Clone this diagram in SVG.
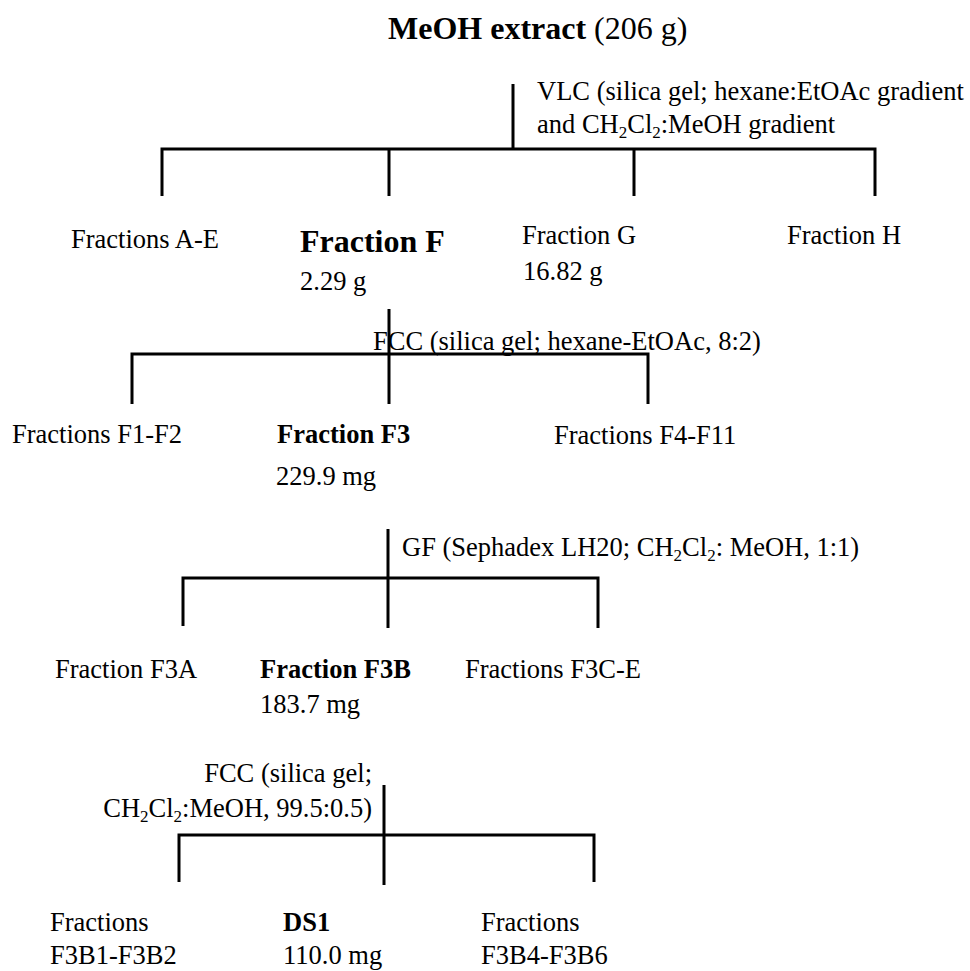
<svg xmlns="http://www.w3.org/2000/svg" width="970" height="971" viewBox="0 0 970 971">
<style>
text{font-family:"Liberation Serif","Times New Roman",serif;font-size:26.5px;fill:#000}
.b{font-weight:bold}
.big{font-size:32px}
.sub{font-size:17px}
.ln{stroke:#000;stroke-width:3;fill:none;stroke-linecap:butt}
</style>
<rect width="970" height="971" fill="#fff"/>
<g id="connectors">
  <path class="ln" d="M513 84V149M160.5 149H876.5M162 149V196M389 149V196M634 149V196M875 149V196"/>
  <path class="ln" d="M389 309V404M130.5 354H649.5M132 354V404M648 354V404"/>
  <path class="ln" d="M388 529V628M181.5 578H599.5M183 578V626M598 578V628"/>
  <path class="ln" d="M384 785V885M177.5 835H595.5M179 835V882M594 835V882"/>
</g>
<g id="meoh"><text x="388" y="39" class="big"><tspan class="b">MeOH extract</tspan> (206 g)</text></g>
<g id="vlc">
  <text x="537" y="100">VLC (silica gel; hexane:EtOAc gradient</text>
  <text x="537" y="133">and CH<tspan class="sub" dy="5">2</tspan><tspan dy="-5">Cl</tspan><tspan class="sub" dy="5">2</tspan><tspan dy="-5">:MeOH gradient</tspan></text>
</g>
<g id="fracAE"><text x="71" y="248">Fractions A-E</text></g>
<g id="fracF"><text x="300" y="252" class="b big">Fraction F</text><text x="300" y="290">2.29 g</text></g>
<g id="fracG"><text x="522" y="244">Fraction G</text><text x="523" y="280">16.82 g</text></g>
<g id="fracH"><text x="787" y="244">Fraction H</text></g>
<g id="fcc1"><text x="373" y="350">FCC (silica gel; hexane-EtOAc, 8:2)</text></g>
<g id="fracF1F2"><text x="12" y="443">Fractions F1-F2</text></g>
<g id="fracF3"><text x="277" y="443" class="b">Fraction F3</text><text x="276" y="485">229.9 mg</text></g>
<g id="fracF4F11"><text x="554" y="444">Fractions F4-F11</text></g>
<g id="gf"><text x="402" y="556">GF (Sephadex LH20; CH<tspan class="sub" dy="5">2</tspan><tspan dy="-5">Cl</tspan><tspan class="sub" dy="5">2</tspan><tspan dy="-5">: MeOH, 1:1)</tspan></text></g>
<g id="fracF3A"><text x="55" y="678">Fraction F3A</text></g>
<g id="fracF3B"><text x="260" y="678" class="b">Fraction F3B</text><text x="260" y="713">183.7 mg</text></g>
<g id="fracF3CE"><text x="465" y="678">Fractions F3C-E</text></g>
<g id="fcc2">
  <text x="372" y="782" text-anchor="end">FCC (silica gel;</text>
  <text x="372" y="817" text-anchor="end">CH<tspan class="sub" dy="5">2</tspan><tspan dy="-5">Cl</tspan><tspan class="sub" dy="5">2</tspan><tspan dy="-5">:MeOH, 99.5:0.5)</tspan></text>
</g>
<g id="fracF3B1B2"><text x="50" y="931">Fractions</text><text x="50" y="964">F3B1-F3B2</text></g>
<g id="ds1"><text x="283" y="931" class="b">DS1</text><text x="283" y="964">110.0 mg</text></g>
<g id="fracF3B4B6"><text x="481" y="931">Fractions</text><text x="481" y="964">F3B4-F3B6</text></g>
</svg>
